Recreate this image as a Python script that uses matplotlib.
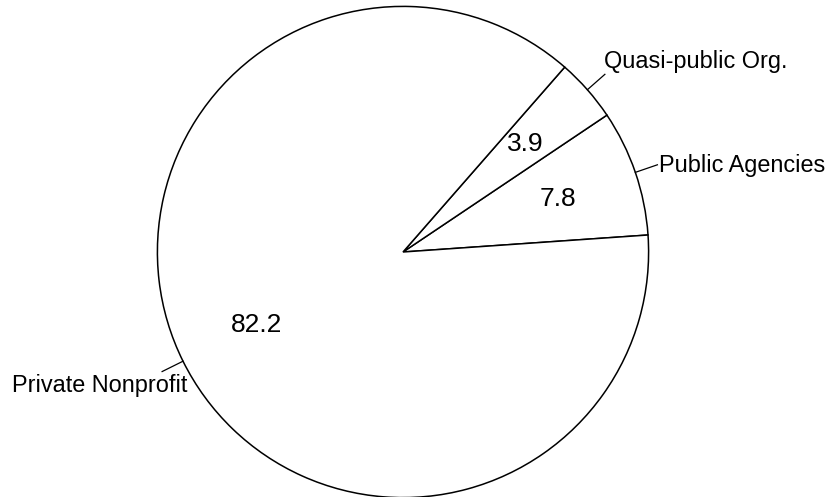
import numpy as np
import matplotlib
matplotlib.use("Agg")
import matplotlib.pyplot as plt

plt.rcParams['font.family'] = ['Liberation Sans', 'DejaVu Sans']

labels = ["Public Agencies", "Quasi-public Org.", "Private Nonprofit"]
values = [7.8, 3.9, 82.2]
value_text = ["7.8", "3.9", "82.2"]

fig = plt.figure(figsize=(8.28, 4.97), dpi=100)
ax = fig.add_axes([0, 0, 1, 1])

start = 3.97
wedges, _ = ax.pie(values, startangle=start, counterclock=True, radius=1,
                   colors=["white"] * 3,
                   wedgeprops=dict(edgecolor="black", linewidth=1.1))

# pixel offsets for the outer labels (from end of leader line)
offsets = [(2, -1, "left"), (-1, 13, "left"), (25, -14, "right")]

for w, txt, lab, (ox, oy, ha) in zip(wedges, value_text, labels, offsets):
    mid = np.deg2rad((w.theta1 + w.theta2) / 2)
    c, s = np.cos(mid), np.sin(mid)
    ax.text(0.666 * c, 0.666 * s, txt, ha="center", va="center", fontsize=19)
    ax.plot([c, 1.095 * c], [s, 1.095 * s], color="black", lw=0.9)
    ax.annotate(lab, xy=(1.095 * c, 1.095 * s), xytext=(ox, oy),
                textcoords="offset pixels", ha=ha, va="center", fontsize=16.9)

r_px = 245.6
cx, cy = 403, 252
ax.set_xlim(-cx / r_px, (828 - cx) / r_px)
ax.set_ylim(-(497 - cy) / r_px, cy / r_px)
ax.set_aspect("auto")
ax.axis("off")

fig.savefig("out.png", dpi=100)
